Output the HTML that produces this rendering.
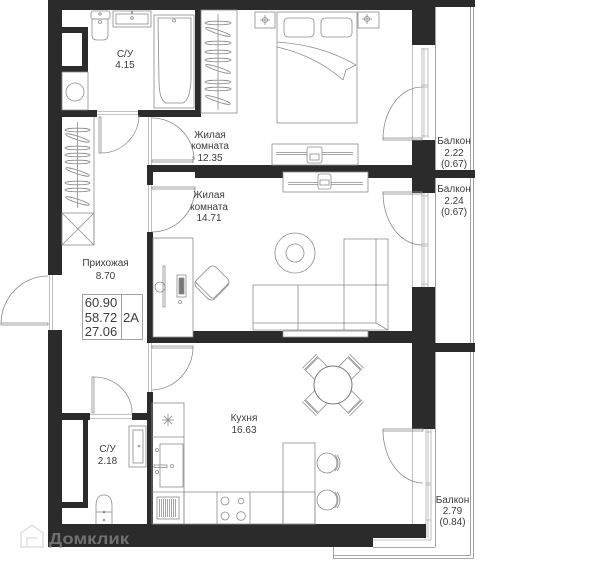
<!DOCTYPE html>
<html><head><meta charset="utf-8">
<style>
html,body{margin:0;padding:0;background:#fff;}
svg{display:block;}
text{font-family:"Liberation Sans","DejaVu Sans",sans-serif;fill:#3c3c3c;font-size:10px;text-anchor:middle;}
text.big{font-size:13px;}
.f{fill:none;stroke:#8c8c8c;stroke-width:0.8;}
.fw{fill:#fff;stroke:#8c8c8c;stroke-width:0.8;}
.w{fill:#2b2b2b;}
.lt{fill:none;stroke:#b0b0b0;stroke-width:0.8;}
</style></head><body>
<svg width="600" height="565" viewBox="0 0 600 565" xmlns="http://www.w3.org/2000/svg">
<!-- balcony outlines -->
<g class="f">
<line x1="435.5" y1="7" x2="435.5" y2="547"/>
<line x1="470.5" y1="7" x2="470.5" y2="555.5"/>
<line x1="473.5" y1="0" x2="473.5" y2="558.5"/>
<polyline points="333.5,547 333.5,558.5 473.5,558.5"/>
<line x1="333.5" y1="555.5" x2="470.5" y2="555.5"/>
<line x1="373" y1="547.5" x2="435.5" y2="547.5"/>
</g>
<!-- window frames right wall -->
<g class="lt">
<line x1="412.5" y1="45" x2="412.5" y2="140"/><line x1="422" y1="48" x2="422" y2="138"/><line x1="424" y1="48" x2="424" y2="138"/><line x1="428" y1="48" x2="428" y2="138"/>
<line x1="422" y1="49" x2="428" y2="49"/><line x1="422" y1="85" x2="428" y2="85"/><line x1="422" y1="87" x2="428" y2="87"/><line x1="422" y1="136" x2="428" y2="136"/>
<line x1="412.5" y1="193" x2="412.5" y2="287"/><line x1="422" y1="193" x2="422" y2="287"/><line x1="424" y1="193" x2="424" y2="287"/><line x1="428" y1="193" x2="428" y2="287"/>
<line x1="422" y1="196" x2="428" y2="196"/><line x1="422" y1="244" x2="428" y2="244"/><line x1="422" y1="246" x2="428" y2="246"/><line x1="422" y1="284" x2="428" y2="284"/>
<line x1="412.5" y1="429" x2="412.5" y2="524"/><line x1="426" y1="429" x2="426" y2="538"/><line x1="428" y1="429" x2="428" y2="538"/><line x1="431" y1="429" x2="431" y2="540"/>
<line x1="426" y1="432" x2="431" y2="432"/><line x1="426" y1="483" x2="431" y2="483"/><line x1="426" y1="485" x2="431" y2="485"/><line x1="426" y1="520" x2="431" y2="520"/>
<line x1="373" y1="540" x2="431" y2="540"/>
<!-- door frames -->
<line x1="148.5" y1="117" x2="148.5" y2="165"/><line x1="151.5" y1="117" x2="151.5" y2="165"/>
<line x1="148.5" y1="185" x2="148.5" y2="232"/><line x1="151.5" y1="185" x2="151.5" y2="232"/>
<line x1="148.5" y1="343" x2="148.5" y2="392"/><line x1="151.5" y1="343" x2="151.5" y2="392"/>
<line x1="49.5" y1="275" x2="49.5" y2="330"/><line x1="52.5" y1="275" x2="52.5" y2="330"/>
<line x1="97" y1="111.5" x2="138" y2="111.5"/><line x1="97" y1="114.5" x2="138" y2="114.5"/>
<line x1="90" y1="414.5" x2="132" y2="414.5"/><line x1="90" y1="418.5" x2="132" y2="418.5"/>
</g>
<!-- walls -->
<g class="w">
<rect x="48" y="0" width="387" height="10"/>
<rect x="435" y="0" width="40" height="7"/>
<rect x="48" y="0" width="14" height="275"/>
<rect x="48" y="330" width="14" height="217"/>
<rect x="48" y="524" width="378" height="14"/>
<rect x="48" y="538" width="325" height="9"/>
<rect x="412" y="0" width="23" height="45"/>
<rect x="412" y="140" width="23" height="53"/>
<rect x="412" y="287" width="23" height="142"/>
<rect x="435" y="170" width="40" height="8"/>
<rect x="435" y="343" width="40" height="9"/>
<rect x="195" y="10" width="6" height="107"/>
<rect x="48" y="110" width="49" height="7"/>
<rect x="138" y="110" width="63" height="7"/>
<rect x="62" y="27" width="26" height="45"/>
<rect x="147" y="165" width="288" height="7"/>
<rect x="195" y="172" width="240" height="6"/>
<rect x="147" y="165" width="6" height="20"/>
<rect x="147" y="232" width="6" height="111"/>
<rect x="147" y="337" width="288" height="6"/>
<rect x="193" y="331" width="242" height="6"/>
<rect x="147" y="392" width="6" height="132"/>
<rect x="48" y="413" width="42" height="7"/>
<rect x="132" y="413" width="21" height="7"/>
<rect x="62" y="413" width="26" height="95"/>
</g>
<rect x="62" y="33" width="20" height="33" fill="#fff"/>
<rect x="62" y="420" width="21" height="82" fill="#fff"/>
<!-- doors -->
<g class="f">
<rect x="383" y="138" width="39" height="2"/><path d="M383,139 A39,52 0 0 1 422,87"/>
<rect x="383" y="192" width="39" height="2"/><path d="M383,193 A39,52 0 0 0 422,245"/>
<rect x="383" y="429" width="40" height="2"/><path d="M383,430 A40,53 0 0 0 423,483"/>
<rect x="99" y="117" width="2" height="36"/><path d="M101,153 A38,38 0 0 0 139,115"/>
<rect x="152" y="160" width="41" height="2"/><line x1="193" y1="156" x2="193" y2="163"/><path d="M152,118 A42,42 0 0 1 194,160"/>
<rect x="152" y="187" width="43" height="2"/><path d="M195,188 A43,44 0 0 1 152,232"/>
<rect x="152" y="346" width="41" height="2"/><path d="M193,347 A42,43 0 0 1 152,390"/>
<rect x="1" y="323" width="47" height="2"/><path d="M1,324 A47,48 0 0 1 48,276"/>
<rect x="92" y="377" width="2" height="36"/><path d="M94,377 A38,36 0 0 1 132,413"/>
</g>
<!-- bathroom 1 -->
<g class="f">
<rect x="91" y="11" width="19" height="8" rx="2"/>
<path d="M92,19 L108,19 L108,35 Q108,40 103,40 L97,40 Q92,40 92,35 Z"/>
<circle cx="100" cy="14" r="1.2"/><circle cx="100" cy="22" r="1.5"/>
<rect x="113" y="11" width="38" height="16"/>
<rect x="116" y="14" width="32" height="10"/>
<circle cx="132" cy="18" r="1.3"/><circle cx="132" cy="12.5" r="0.8"/>
<rect x="154" y="15" width="40" height="93"/>
<path d="M158,18 L191,18 L191,80 Q190,100 183,103 L166,103 Q159,100 159,80 Z"/>
<circle cx="174" cy="20.5" r="1.5"/>
<rect x="62" y="72" width="26" height="38"/>
<circle cx="75" cy="92" r="9"/>
</g>
<!-- wardrobes -->
<g class="f">
<rect x="201" y="10" width="36" height="103"/>
<line x1="218" y1="14" x2="218" y2="110"/>
<ellipse cx="218" cy="23" rx="13" ry="1.8"/>
<ellipse cx="218" cy="32" rx="13" ry="1.8" transform="rotate(18 218 32)"/>
<ellipse cx="218" cy="43" rx="13" ry="1.8"/>
<ellipse cx="218" cy="52" rx="13" ry="1.8"/>
<ellipse cx="218" cy="60" rx="13" ry="1.8"/>
<ellipse cx="218" cy="69" rx="13" ry="1.8" transform="rotate(18 218 69)"/>
<ellipse cx="218" cy="82" rx="13" ry="1.8"/>
<ellipse cx="218" cy="89" rx="13" ry="1.8"/>
<ellipse cx="218" cy="100" rx="13" ry="1.8" transform="rotate(18 218 100)"/>
<line x1="94" y1="117" x2="94" y2="245"/>
<line x1="77.5" y1="122" x2="77.5" y2="208"/>
<ellipse cx="77.5" cy="130" rx="12.5" ry="1.8"/>
<ellipse cx="77.5" cy="138" rx="12.5" ry="1.8" transform="rotate(18 77.5 138)"/>
<ellipse cx="77.5" cy="148" rx="12.5" ry="1.8"/>
<ellipse cx="77.5" cy="155" rx="12.5" ry="1.8"/>
<ellipse cx="77.5" cy="162" rx="12.5" ry="1.8"/>
<ellipse cx="77.5" cy="172" rx="12.5" ry="1.8" transform="rotate(18 77.5 172)"/>
<ellipse cx="77.5" cy="183" rx="12.5" ry="1.8"/>
<ellipse cx="77.5" cy="190" rx="12.5" ry="1.8"/>
<ellipse cx="77.5" cy="201" rx="12.5" ry="1.8" transform="rotate(18 77.5 201)"/>
<rect x="62" y="213" width="32" height="32"/>
<line x1="62" y1="213" x2="94" y2="245"/><line x1="94" y1="213" x2="62" y2="245"/>
</g>
<!-- bedroom -->
<g class="f">
<rect x="255" y="12" width="20" height="16"/>
<circle cx="265" cy="20" r="2.5"/><line x1="260" y1="20" x2="270" y2="20"/><line x1="265" y1="15" x2="265" y2="25"/>
<rect x="358" y="12" width="21" height="16"/>
<circle cx="367" cy="19" r="2.5"/><line x1="362" y1="19" x2="372" y2="19"/><line x1="367" y1="14" x2="367" y2="24"/>
<rect x="277" y="12" width="80" height="111"/>
<rect x="284" y="18" width="30" height="19" rx="4"/>
<rect x="321" y="18" width="31" height="19" rx="4"/>
<path d="M277,42 Q322,45 356,65"/>
<path d="M277,47 Q316,56 343,80"/>
<path d="M343,80 L346,70 L356,65"/>
<rect x="272" y="144" width="86" height="21"/>
<line x1="276" y1="152.5" x2="353" y2="152.5"/><line x1="276" y1="154.5" x2="353" y2="154.5"/>
<rect x="307" y="147" width="15" height="16" rx="2" class="fw"/>
<rect x="310" y="154" width="9" height="6"/>
</g>
<!-- living -->
<g class="f">
<rect x="283" y="172" width="85" height="20" class="fw"/>
<line x1="288" y1="182.5" x2="363" y2="182.5"/><line x1="288" y1="184.5" x2="363" y2="184.5"/>
<rect x="318" y="174" width="13" height="15" rx="2" class="fw"/>
<rect x="320" y="180" width="9" height="5"/>
<circle cx="295" cy="253" r="20"/>
<circle cx="295" cy="253" r="9"/>
<rect x="283" y="331" width="85" height="6" fill="#fff"/>
<path d="M253,285 L344,285 L344,239 L388,239 L388,330 L253,330 Z"/>
<line x1="253" y1="323" x2="376" y2="323"/>
<line x1="376" y1="239" x2="376" y2="323"/>
<line x1="376" y1="323" x2="388" y2="330"/>
<line x1="298" y1="285" x2="298" y2="330"/>
<line x1="344" y1="285" x2="344" y2="330"/>
<line x1="344" y1="285" x2="388" y2="285"/>
<rect x="153" y="238" width="40" height="99" class="fw"/>
<rect x="163" y="266" width="2" height="41"/>
<circle cx="160" cy="287" r="5"/>
<rect x="177" y="275" width="9" height="22"/>
<rect x="179" y="278" width="5" height="16" fill="#777"/>
<circle cx="180" cy="302" r="1.5"/>
<g transform="translate(212,283) rotate(-45)">
<rect x="-14" y="-13" width="28" height="26" rx="5"/>
<path d="M-11,-13 L-11,9 Q-11,12 -8,12 L11,12"/>
</g>
</g>
<!-- bathroom 2 -->
<g class="f">
<rect x="129" y="426" width="17" height="41"/>
<rect x="133" y="430" width="10" height="33"/>
<circle cx="139" cy="446" r="0.9"/>
<path d="M96,524 L96,506 Q96,495 104,495 Q112,495 112,506 L112,524"/>
<line x1="96" y1="512" x2="112" y2="512"/>
<circle cx="104" cy="512" r="0.9"/><circle cx="104" cy="520" r="0.9"/>
</g>
<!-- kitchen -->
<g class="f">
<rect x="152" y="403" width="32" height="121"/>
<line x1="152" y1="437" x2="184" y2="437"/>
<line x1="152" y1="492" x2="184" y2="492"/>
<g transform="translate(168,420)"><line x1="-6" y1="0" x2="6" y2="0"/><line x1="0" y1="-6" x2="0" y2="6"/><line x1="-4.2" y1="-4.2" x2="4.2" y2="4.2"/><line x1="-4.2" y1="4.2" x2="4.2" y2="-4.2"/></g>
<rect x="160" y="444" width="23" height="43"/>
<circle cx="157" cy="450" r="1.5"/><circle cx="157" cy="472" r="1.5"/>
<rect x="154" y="465" width="13" height="2.5"/><circle cx="172" cy="466" r="1.5"/>
<rect x="157" y="497" width="22" height="22"/>
<line x1="159.5" y1="499" x2="159.5" y2="517"/><line x1="161.5" y1="499" x2="161.5" y2="517"/><line x1="163.5" y1="499" x2="163.5" y2="517"/><line x1="165.5" y1="499" x2="165.5" y2="517"/><line x1="167.5" y1="499" x2="167.5" y2="517"/><line x1="169.5" y1="499" x2="169.5" y2="517"/><line x1="171.5" y1="499" x2="171.5" y2="517"/><line x1="173.5" y1="499" x2="173.5" y2="517"/><line x1="175.5" y1="499" x2="175.5" y2="517"/>
<rect x="184" y="492" width="131" height="32"/>
<line x1="217" y1="492" x2="217" y2="524"/><line x1="250" y1="492" x2="250" y2="524"/><line x1="283" y1="492" x2="283" y2="524"/>
<circle cx="225" cy="501" r="4"/><circle cx="241" cy="501" r="2.8"/>
<circle cx="225" cy="516" r="4"/><circle cx="241" cy="516" r="4.3"/>
<rect x="283" y="443" width="32" height="81"/>
<circle cx="327" cy="463" r="10"/><path d="M335,455 Q341,463 335,471"/><path d="M337,455 Q343,463 337,471"/>
<circle cx="327" cy="500" r="10"/><path d="M335,492 Q341,500 335,508"/><path d="M337,492 Q343,500 337,508"/>
<g transform="translate(333,385)">
<g transform="rotate(45)"><rect x="-9" y="14" width="18" height="16" rx="1"/><line x1="-10" y1="31" x2="10" y2="31"/><line x1="-10" y1="33.5" x2="10" y2="33.5"/></g>
<g transform="rotate(135)"><rect x="-9" y="14" width="18" height="16" rx="1"/><line x1="-10" y1="31" x2="10" y2="31"/><line x1="-10" y1="33.5" x2="10" y2="33.5"/></g>
<g transform="rotate(225)"><rect x="-9" y="14" width="18" height="16" rx="1"/><line x1="-10" y1="31" x2="10" y2="31"/><line x1="-10" y1="33.5" x2="10" y2="33.5"/></g>
<g transform="rotate(315)"><rect x="-9" y="14" width="18" height="16" rx="1"/><line x1="-10" y1="31" x2="10" y2="31"/><line x1="-10" y1="33.5" x2="10" y2="33.5"/></g>
<circle cx="0" cy="0" r="19" fill="#fff" stroke="#777" stroke-width="1"/>
</g>
</g>
<!-- area box -->
<rect x="82.5" y="294.5" width="60" height="45" class="f"/>
<line x1="121.5" y1="294.5" x2="121.5" y2="339.5" class="f"/>
<!-- labels -->
<text x="125" y="57">С/У</text><text x="125" y="68">4.15</text>
<text x="210" y="138">Жилая</text><text x="210" y="149">комната</text><text x="210" y="161">12.35</text>
<text x="209" y="198">Жилая</text><text x="209" y="210">комната</text><text x="209" y="221">14.71</text>
<text x="105.5" y="266">Прихожая</text><text x="105.5" y="279">8.70</text>
<text x="244" y="421">Кухня</text><text x="244" y="433">16.63</text>
<text x="107.5" y="452">С/У</text><text x="107.5" y="464">2.18</text>
<text x="454" y="144">Балкон</text><text x="454" y="156">2.22</text><text x="454" y="167">(0.67)</text>
<text x="454" y="192">Балкон</text><text x="454" y="204">2.24</text><text x="454" y="215">(0.67)</text>
<text x="452.5" y="503">Балкон</text><text x="452.5" y="514">2.79</text><text x="452.5" y="525">(0.84)</text>
<text class="big" x="101" y="307">60.90</text><text class="big" x="101" y="322">58.72</text><text class="big" x="101" y="336">27.06</text>
<text class="big" x="131" y="322">2А</text>
<!-- watermark -->
<path d="M21,547 L21,533 L32,525 L43,533 L43,547 Z M27,547 L27,538 L37,538" fill="none" stroke="rgba(200,200,200,0.55)" stroke-width="1.5"/>
<text x="49" y="544" textLength="80" lengthAdjust="spacingAndGlyphs" style="font-size:16px;font-weight:bold;text-anchor:start;fill:#707070">Домклик</text>
</svg>
</body></html>
